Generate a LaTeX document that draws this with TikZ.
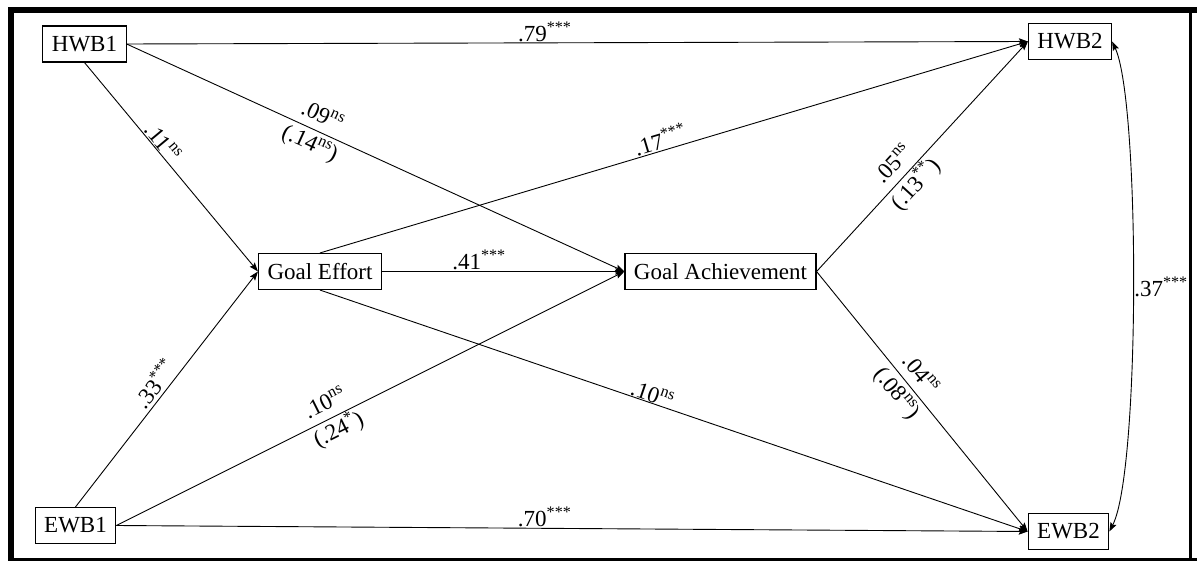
\documentclass[tikz,border=0pt]{standalone}
\usepackage{fontspec}
\setmainfont{Liberation Serif}
\usetikzlibrary{arrows.meta}
\begin{document}
\begin{tikzpicture}[x=1pt,y=-1pt,
  box/.style={draw, line width=1.1pt, inner xsep=9pt, inner ysep=0pt, minimum height=36pt, font=\fontsize{23}{26}\selectfont},
  tip/.tip={Stealth[length=9pt,width=6.5pt,inset=1.5pt]},
  conn/.style={line width=0.9pt, -tip},
  lbl/.style={font=\fontsize{23}{26}\selectfont, inner sep=1pt},
  lbl2/.style={font=\fontsize{23}{30}\selectfont, inner sep=0pt, align=center, sloped}
]
\useasboundingbox (0,0) rectangle (1197,561);
% frame
\fill (8,7) rectangle (1197,13);
\fill (8,7) rectangle (14,561);
\fill (1189,7) rectangle (1191.5,561);
\fill (8,558) rectangle (1197,561);
% nodes
\node[box] (hwb1) at (84.5,44) {HWB1};
\node[box] (hwb2) at (1070,41.5) {HWB2};
\node[box] (ge) at (320,271.5) {Goal Effort};
\node[box] (ga) at (720.5,271.5) {Goal Achievement};
\node[box] (ewb1) at (75.5,525.5) {EWB1};
\node[box] (ewb2) at (1068.5,531.5) {EWB2};
% connectors
\draw[conn] (hwb1.east) -- node[lbl, above, pos=0.464] {.79\textsuperscript{***}} (hwb2.west);
\draw[conn] (hwb1.east) -- node[lbl2, pos=0.38] {.09\textsuperscript{ns}\\(.14\textsuperscript{ns})} (ga.west);
\draw[conn] (hwb1.south) -- node[lbl, above, sloped, pos=0.41] {.11\textsuperscript{ns}} (ge.west);
\draw[conn] (ge.north) -- node[lbl, above, sloped, pos=0.485] {.17\textsuperscript{***}} (hwb2.west);
\draw[conn] (ge.east) -- node[lbl, above, pos=0.40] {.41\textsuperscript{***}} (ga.west);
\draw[conn] (ge.south) -- node[lbl, above, sloped, pos=0.466, inner sep=0pt] {.10\textsuperscript{ns}} (ewb2.west);
\draw[conn] (ewb1.north) -- node[lbl, above, sloped, pos=0.49, inner sep=3pt] {.33\textsuperscript{***}} (ge.west);
\draw[conn] (ewb1.east) -- node[lbl2, pos=0.425] {.10\textsuperscript{ns}\\(.24\textsuperscript{*})} (ga.west);
\draw[conn] (ewb1.east) -- node[lbl, above, pos=0.47] {.70\textsuperscript{***}} (ewb2.west);
\draw[conn] (ga.east) -- node[lbl2, pos=0.42] {.05\textsuperscript{ns}\\(.13\textsuperscript{**})} (hwb2.west);
\draw[conn] (ga.east) -- node[lbl2, pos=0.434] {.04\textsuperscript{ns}\\(.08\textsuperscript{ns})} (ewb2.west);
\draw[line width=0.9pt, tip-tip] (hwb2.east) .. controls +(28,60) and +(31,-60) .. node[lbl, right, pos=0.5, inner sep=1pt] {.37\textsuperscript{***}} (ewb2.east);
\end{tikzpicture}
\end{document}
